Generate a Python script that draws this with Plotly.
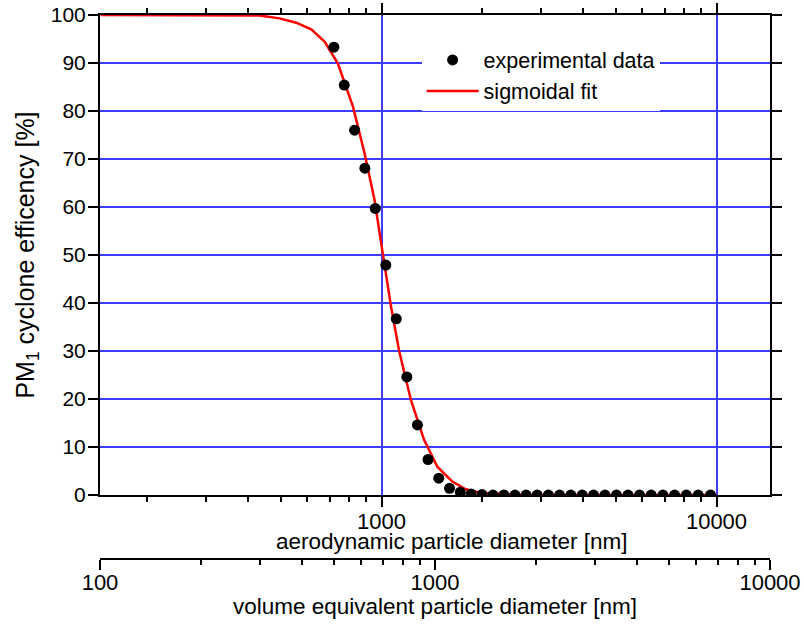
import plotly.graph_objects as go

# experimental data (aerodynamic diameter in nm, efficiency in %)
exp_diam = [721, 774, 831, 892, 958, 1030, 1107, 1190, 1280, 1377, 1482, 1596, 1719,
            1852, 1996, 2152, 2320, 2503, 2701, 2915, 3148, 3400, 3674, 3972, 4295,
            4646, 5028, 5441, 5893, 6385, 6918, 7498, 8130, 8820, 9600]
exp_eff = [93.3, 85.4, 76.0, 68.1, 59.7, 47.9, 36.7, 24.6, 14.6, 7.4, 3.5, 1.4, 0.6,
           0.2, 0.1, 0, 0, 0, 0, 0, 0, 0, 0, 0, 0,
           0, 0, 0, 0, 0, 0, 0, 0, 0, 0]

# sigmoidal fit curve
fit_diam = [145, 290, 432, 496, 556, 617, 677, 741, 822, 890, 953, 1008, 1068, 1130,
            1224, 1340, 1468, 1627, 1785, 2001, 2575, 4000, 10000]
fit_eff = [100, 100, 99.9, 99.3, 98.4, 97.0, 94.4, 89.9, 80.9, 71.2, 61.5, 50.5, 39.2,
           29.9, 19.8, 11.5, 5.9, 2.8, 1.2, 0.4, 0.05, 0, 0]

# range of volume equivalent axis
vol_range = [100, 10000]

font = "Liberation Sans, Arial, sans-serif"
grid_blue = "#3d3dff"

fig = go.Figure()
fig.add_trace(go.Scatter(x=fit_diam, y=fit_eff, mode="lines", name="sigmoidal fit",
                         line=dict(color="#ff0000", width=2.5), legendrank=2))
fig.add_trace(go.Scatter(x=exp_diam, y=exp_eff, mode="markers", name="experimental data",
                         marker=dict(color="black", size=11), legendrank=1))
# dummy trace so the second x axis is drawn
fig.add_trace(go.Scatter(x=vol_range, y=[None, None], xaxis="x2", mode="markers",
                         showlegend=False, hoverinfo="skip"))

axis_common = dict(
    type="log", dtick=1, tickformat="d", automargin=False,
    ticks="outside", ticklen=10, tickwidth=2, tickcolor="black",
    showline=True, linecolor="black", linewidth=2,
    zeroline=False, tickfont=dict(size=22),
    minor=dict(ticks="outside", ticklen=5, tickwidth=1.5, tickcolor="black", showgrid=False),
)

fig.update_layout(
    width=804, height=624,
    margin=dict(l=100, r=34, t=15, b=65),
    paper_bgcolor="white", plot_bgcolor="white",
    font=dict(family=font, size=21, color="black"),
    xaxis=dict(**axis_common, range=[2.1597, 4.1597], mirror="ticks",
               ticklabelstandoff=-4,
               showgrid=True, gridcolor=grid_blue, gridwidth=1.5),
    xaxis2=dict(**axis_common, range=[2, 4], overlaying="x", anchor="free", position=0,
                side="bottom", showgrid=False, ticklabelstandoff=-6),
    yaxis=dict(domain=[0.1176, 1], range=[0, 100], dtick=10, automargin=False,
               ticks="outside", ticklen=10, tickwidth=2, tickcolor="black",
               ticklabelstandoff=-2,
               showline=True, linecolor="black", linewidth=2, mirror="ticks",
               showgrid=True, gridcolor=grid_blue, gridwidth=1.5, zeroline=False,
               tickfont=dict(size=21),
               title=dict(text="PM<sub>1</sub> cyclone efficency [%]", standoff=9)),
    legend=dict(x=0.48, y=0.955, xanchor="left", yanchor="top", bgcolor="white",
                font=dict(size=21.5), itemwidth=52, tracegroupgap=0),
    showlegend=True,
)

# x axis titles
fig.add_annotation(text="aerodynamic particle diameter [nm]", xref="paper", yref="paper",
                   x=0.525, y=0.033, xanchor="center", yanchor="middle", showarrow=False,
                   font=dict(size=22.5))
fig.add_annotation(text="volume equivalent particle diameter [nm]", xref="paper", yref="paper",
                   x=0.5, y=-0.088, xanchor="center", yanchor="middle", showarrow=False,
                   font=dict(size=22.5))

fig.write_html("out.html", config={"displayModeBar": False},
               post_script="document.body.style.margin='0px';")
